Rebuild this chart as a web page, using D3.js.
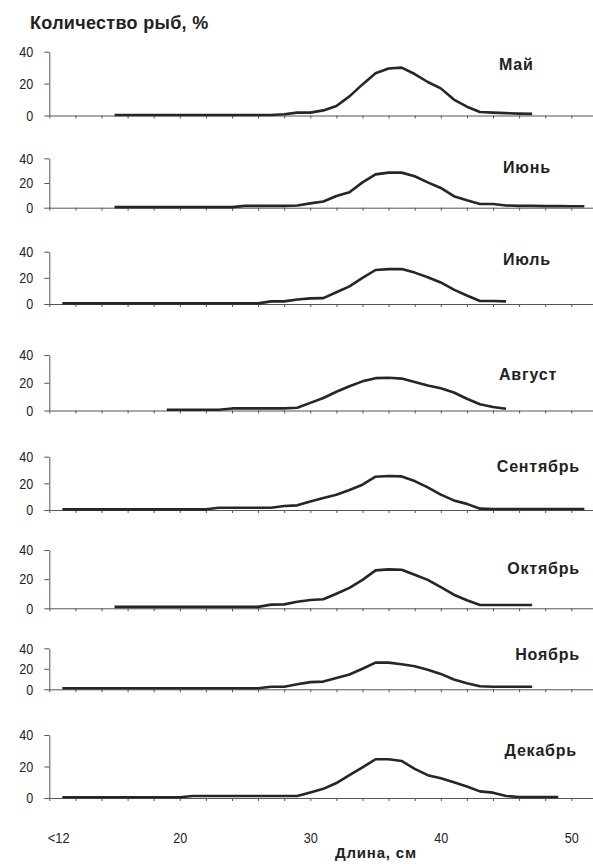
<!DOCTYPE html>
<html><head><meta charset="utf-8">
<script src="https://cdn.jsdelivr.net/npm/d3@7"></script>
<style>body{margin:0;background:#fff} svg{display:block}</style>
</head><body>
<svg id="chart" width="593" height="864"></svg>
<script>
// ---------- data ----------
const months = ["Май", "Июнь", "Июль", "Август", "Сентябрь", "Октябрь", "Ноябрь", "Декабрь"];
const lengthsCm = [11,12,13,14,15,16,17,18,19,20,21,22,23,24,25,26,27,28,29,30,31,32,33,34,35,36,37,38,39,40,41,42,43,44,45,46,47,48,49,50,51];
const tickValuesCm = [10,12,14,16,18,20,22,24,26,28,30,32,34,36,38,40,42,44,46,48,50,52];
const xLabelValues = [10, 20, 30, 40, 50];
const xLabels = ["<12", "20", "30", "40", "50"];
const yTicks = [0, 20, 40];

const may = [null,null,null,null, 0.3,0.3,0.3,0.3,0.3,0.3,0.3,0.3,0.3,0.3,0.3,0.3,0.3,
  0.8,1.8,1.8,3.2,6,12,19.5,26.5,29.5,30,26,21,17,10,5.5,2.2,1.8,1.5,1.2,1.0, null,null,null,null];
const june = [null,null,null,null, 0.5,0.5,0.5,0.5,0.5,0.5,0.5,0.5,0.5,0.5, 1.5,1.5,1.5,1.5,
  1.8,3.5,5,9.5,12.5,20.5,27,28.4,28.4,25.5,20.5,16,9.3,6,3,3,1.8,1.5,1.5,1.3,1.3,1.2,1.2];
const july = [0.5,0.5,0.5,0.5,0.5,0.5,0.5,0.5,0.5,0.5,0.5,0.5,0.5,0.5,0.5,0.5,
  2,2,3.5,4.3,4.5,9,13.5,20,26,26.7,26.7,24,20.5,16.5,11,6.5,2.3,2.3,2, null,null,null,null,null,null];
const august = [null,null,null,null,null,null,null,null, 0.5,0.5,0.5,0.5,0.5, 1.5,1.5,1.5,1.5,1.5,
  2,5.5,9,13.5,17.5,21,23.3,23.6,23,20.5,18,16,13,8.5,4.5,2.5,1.3, null,null,null,null,null,null];
const september = [0.5,0.5,0.5,0.5,0.5,0.5,0.5,0.5,0.5,0.5,0.5,0.5, 1.7,1.7,1.7,1.7,1.7,
  3,3.5,6.3,9,11.5,15,19,25,25.5,25.2,21.7,17,11.5,7.2,4.6,1.0, 0.8,0.8,0.8,0.8,0.8,0.8,0.8,0.8];
const october = [null,null,null,null, 1,1,1,1,1,1,1,1,1,1,1,1,
  2.5,2.7,4.5,5.7,6.2,10,14,19.5,26,26.7,26.5,23,19.5,14.5,9.3,5.5,2.3,2.3,2.3,2.3,2.3, null,null,null,null];
const november = [1,1,1,1,1,1,1,1,1,1,1,1,1,1,1,1,
  2.5,2.5,5,7,7.5,11,14.5,20,26,26,24.5,22.5,19,15,9.5,6,3,2.5,2.5,2.5,2.5, null,null,null,null];
const december = [0.5,0.5,0.5,0.5,0.5,0.5,0.5,0.5,0.5,0.5, 1.3,1.3,1.3,1.3,1.3,1.3,1.3,1.3,1.3,
  3.5,5.8,9.5,14.5,19.5,24.6,24.6,23.5,18.5,14.5,12.5,10,7.3,4.2,3.4,1.3,0.6,0.6,0.6,0.6, null,null];

const series = [may, june, july, august, september, october, november, december];

// ---------- layout ----------
const panelTop  = [51.7, 158.3, 251.7, 355, 456.7, 550, 648.3, 735];
const panelBase = [115.5, 207.7, 304, 410.5, 510, 608.3, 689.3, 798];
const labelX    = [499, 503, 503, 499, 580, 580, 580, 577];
const labelY    = [70, 173, 265, 380, 472, 574, 660, 756];
const labelAnchor = ["start","start","start","start","end","end","end","end"];

const svg = d3.select("#chart");
const x = d3.scaleLinear().domain([10, 52]).range([49.3, 597.4]);

const tickFont = "'Liberation Sans',Arial,sans-serif";
const boldFont = "'Liberation Sans',Arial,sans-serif";
const axisColor = "#555";
const lineColor = "#262626";
const digitW = 7; // condensed digit width

svg.append("text")
  .attr("x", 30).attr("y", 29)
  .attr("font-family", boldFont).attr("font-weight", "bold")
  .attr("font-size", 18).attr("letter-spacing", 0.3)
  .attr("fill", "#222")
  .text("Количество рыб, %");

months.forEach((m, i) => {
  const y = d3.scaleLinear().domain([0, 40]).range([panelBase[i], panelTop[i]]);
  const g = svg.append("g");

  const gx = g.append("g")
    .attr("transform", `translate(0,${panelBase[i]})`)
    .call(d3.axisBottom(x).tickValues(tickValuesCm).tickSize(3).tickSizeOuter(0).tickFormat(""));
  gx.select(".domain").attr("stroke", axisColor);
  gx.selectAll(".tick line").attr("stroke", axisColor);

  const gy = g.append("g")
    .attr("transform", `translate(${x(10)},0)`)
    .call(d3.axisLeft(y).tickValues(yTicks).tickSize(5).tickSizeOuter(0).tickPadding(11));
  gy.select(".domain").attr("stroke", axisColor);
  gy.selectAll(".tick line").attr("stroke", axisColor);
  gy.selectAll(".tick text")
    .attr("font-family", tickFont)
    .attr("font-size", 15).attr("fill", "#222")
    .attr("textLength", d => String(d).length * digitW)
    .attr("lengthAdjust", "spacingAndGlyphs");

  const pts = lengthsCm.map((c, k) => ({c, v: series[i][k]}));
  const line = d3.line()
    .defined(d => d.v != null)
    .x(d => x(d.c))
    .y(d => y(d.v));
  g.append("path")
    .datum(pts)
    .attr("fill", "none")
    .attr("stroke", lineColor)
    .attr("stroke-width", 2.6)
    .attr("stroke-linejoin", "round")
    .attr("d", line);

  g.append("text")
    .attr("x", labelX[i]).attr("y", labelY[i])
    .attr("text-anchor", labelAnchor[i])
    .attr("font-family", boldFont).attr("font-weight", "bold")
    .attr("font-size", 16).attr("letter-spacing", 0.8)
    .attr("fill", "#222")
    .text(m);

  if (i === months.length - 1) {
    const gl = g.append("g")
      .attr("transform", `translate(0,${panelBase[i]})`)
      .call(d3.axisBottom(x).tickValues(xLabelValues).tickSize(0).tickPadding(34)
        .tickFormat((d, k) => xLabels[k]));
    gl.select(".domain").remove();
    gl.selectAll(".tick text")
      .attr("font-family", tickFont)
      .attr("font-size", 15).attr("fill", "#222")
      .attr("dx", (d, k) => k === 0 ? 9 : 0)
      .attr("textLength", (d, k) => k === 0 ? 22 : 2 * digitW)
      .attr("lengthAdjust", "spacingAndGlyphs");
  }
});

svg.append("text")
  .attr("x", 335).attr("y", 858)
  .attr("font-family", boldFont).attr("font-weight", "bold")
  .attr("font-size", 15).attr("letter-spacing", 0.8)
  .attr("fill", "#222")
  .text("Длина, см");
</script>
</body></html>
